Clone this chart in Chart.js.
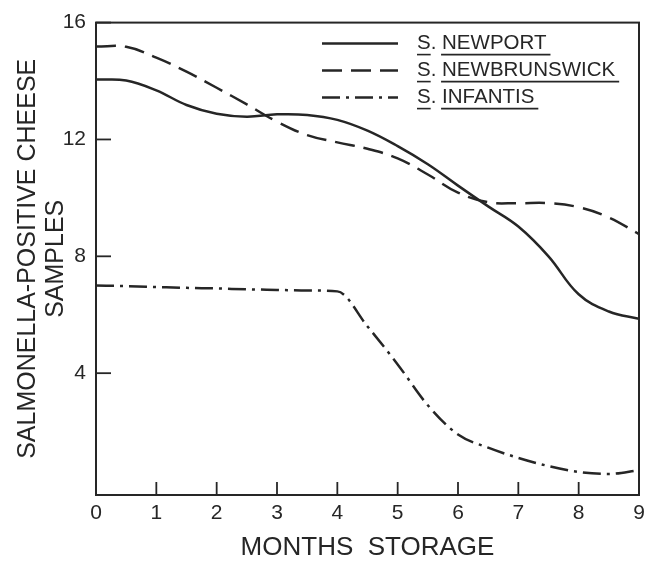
<!DOCTYPE html>
<html><head><meta charset="utf-8">
<script src="https://cdn.jsdelivr.net/npm/chart.js@4/dist/chart.umd.min.js"></script>
<style>html,body{margin:0;padding:0;background:#fff}#wrap{width:652px;height:565px}</style>
</head><body><div id="wrap"><canvas id="c" width="652" height="565"></canvas></div>
<script>
const months = [0,0.5,1,1.5,2,2.5,3,3.5,4,4.5,5,5.5,6,6.5,7,7.5,8,8.5,9];
const newport = [14.05,14.02,13.68,13.18,12.88,12.78,12.86,12.84,12.67,12.3,11.77,11.15,10.42,9.71,9.02,8.0,6.7,6.11,5.86];
const newbrunswick = [15.18,15.17,14.8,14.32,13.77,13.2,12.61,12.15,11.9,11.68,11.35,10.8,10.18,9.85,9.82,9.82,9.68,9.33,8.76];
const infantis = [7.0,6.98,6.95,6.92,6.9,6.87,6.85,6.83,6.8,5.6,4.3,2.9,1.9,1.45,1.1,0.82,0.62,0.55,0.68];
const xTicks = [0,1,2,3,4,5,6,7,8,9];
const yTicks = [4,8,12,16];
const seriesLabels = ['S. NEWPORT','S. NEWBRUNSWICK','S. INFANTIS'];
const xTitle = 'MONTHS  STORAGE';
const yTitle = ['SALMONELLA-POSITIVE CHEESE','SAMPLES'];

const INK = '#262626';
const FONT = '"Liberation Sans", Arial, sans-serif';

function pts(vals){ return months.map((m,i)=>({x:m,y:vals[i]})); }

const framePlugin = {
  id:'frameTicks',
  afterDraw(chart){
    const {ctx, chartArea:a, scales} = chart;
    ctx.save();
    ctx.strokeStyle = INK; ctx.lineWidth = 2;
    ctx.strokeRect(a.left, a.top, a.right-a.left, a.bottom-a.top);
    ctx.lineWidth = 1.8;
    yTicks.forEach(v=>{ const y = scales.y.getPixelForValue(v);
      ctx.beginPath(); ctx.moveTo(a.left,y); ctx.lineTo(a.left+15,y); ctx.stroke(); });
    xTicks.slice(1,-1).forEach(v=>{ const x = scales.x.getPixelForValue(v);
      ctx.beginPath(); ctx.moveTo(x,a.bottom); ctx.lineTo(x,a.bottom-13); ctx.stroke(); });
    // legend
    ctx.font = '20.5px ' + FONT;
    ctx.textBaseline = 'middle';
    ctx.fillStyle = INK;
    chart.data.datasets.forEach((ds,i)=>{
      const y = a.top + 21 + i*27;
      ctx.save();
      ctx.setLineDash(ds.borderDash || []);
      ctx.lineWidth = 2.5; ctx.strokeStyle = INK;
      ctx.beginPath(); ctx.moveTo(a.left+226,y); ctx.lineTo(a.left+302,y); ctx.stroke();
      ctx.restore();
      const tx = a.left + 321;
      ctx.fillText(ds.label, tx, y);
      const parts = ds.label.split(' ');
      const wS = ctx.measureText('S').width;
      const wPre = ctx.measureText(parts[0] + ' ').width;
      const wName = ctx.measureText(parts.slice(1).join(' ')).width;
      ctx.lineWidth = 1.6;
      const uy = y + 11;
      ctx.beginPath(); ctx.moveTo(tx, uy); ctx.lineTo(tx+wS, uy); ctx.stroke();
      ctx.beginPath(); ctx.moveTo(tx+wPre-1, uy); ctx.lineTo(tx+wPre+wName+4, uy); ctx.stroke();
    });
    ctx.restore();
  }
};

new Chart(document.getElementById('c'), {
  type:'line',
  data:{ datasets:[
    {label:seriesLabels[0], data:pts(newport), borderColor:INK, borderWidth:2.5, borderDash:[], pointRadius:0, tension:0.4, fill:false},
    {label:seriesLabels[1], data:pts(newbrunswick), borderColor:INK, borderWidth:2.5, borderDash:[20,9], pointRadius:0, tension:0.4, fill:false},
    {label:seriesLabels[2], data:pts(infantis), borderColor:INK, borderWidth:2.5, borderDash:[18,6,3,6], pointRadius:0, cubicInterpolationMode:'monotone', fill:false}
  ]},
  options:{
    responsive:false, animation:false,
    layout:{padding:{top:17,right:13,left:0,bottom:0}},
    plugins:{legend:{display:false}, tooltip:{enabled:false}},
    scales:{
      x:{type:'linear', min:0, max:9,
        afterBuildTicks:s=>{ s.ticks = xTicks.map(v=>({value:v})); },
        afterFit:s=>{ s.height = 70; },
        grid:{display:false, drawTicks:false}, border:{display:false},
        ticks:{color:INK, padding:6, font:{family:FONT, size:21}, maxRotation:0, autoSkip:false},
        title:{display:true, text:xTitle, color:INK, font:{family:FONT, size:26}, padding:{top:0,bottom:2}}
      },
      y:{type:'linear', min:-0.17, max:16,
        afterBuildTicks:s=>{ s.ticks = yTicks.map(v=>({value:v})); },
        afterFit:s=>{ s.width = 96; },
        grid:{display:false, drawTicks:false}, border:{display:false},
        ticks:{color:INK, padding:10, font:{family:FONT, size:21}, autoSkip:false},
        title:{display:true, text:yTitle, color:INK, font:{family:FONT, size:25, lineHeight:1.12}, padding:{top:14,bottom:0}}
      }
    }
  },
  plugins:[framePlugin]
});
</script></body></html>
